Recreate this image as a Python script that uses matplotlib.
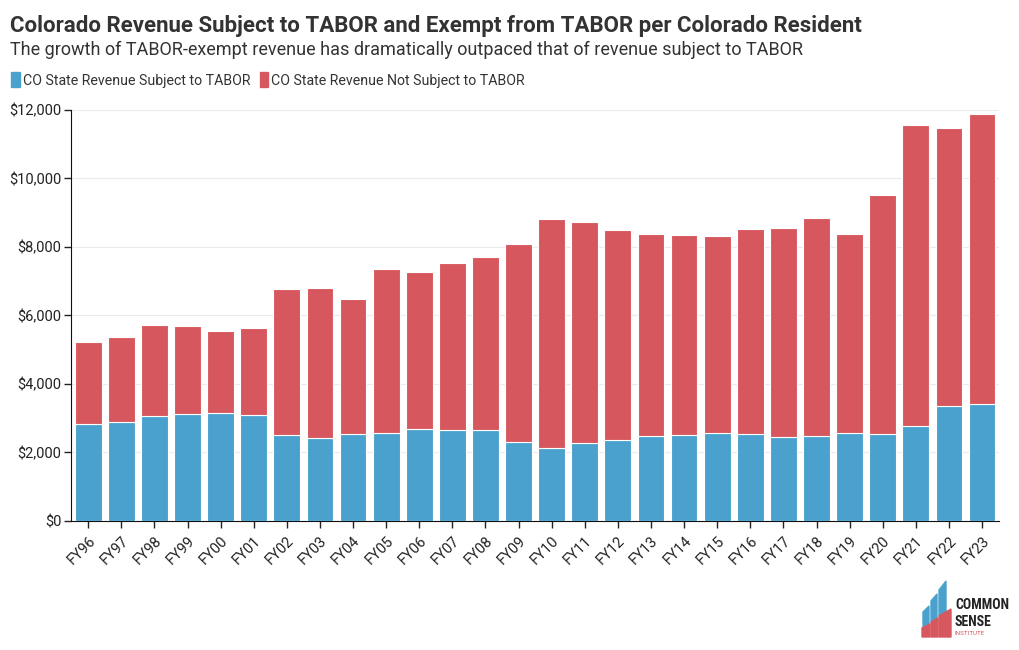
import matplotlib.pyplot as plt
from matplotlib.patches import Rectangle, Polygon
from matplotlib.ticker import FuncFormatter, MultipleLocator

plt.rcParams['font.family'] = ['Roboto', 'DejaVu Sans']

years = ['FY96', 'FY97', 'FY98', 'FY99', 'FY00', 'FY01', 'FY02', 'FY03', 'FY04', 'FY05',
         'FY06', 'FY07', 'FY08', 'FY09', 'FY10', 'FY11', 'FY12', 'FY13', 'FY14', 'FY15',
         'FY16', 'FY17', 'FY18', 'FY19', 'FY20', 'FY21', 'FY22', 'FY23']
# revenue subject to TABOR, per resident ($)
subject = [2835, 2900, 3066, 3115, 3163, 3085, 2501, 2413, 2550, 2570,
           2676, 2666, 2666, 2297, 2141, 2268, 2365, 2472, 2501, 2569,
           2550, 2453, 2482, 2579, 2550, 2764, 3367, 3416]
# total revenue per resident ($)
total = [5235, 5372, 5732, 5693, 5547, 5645, 6774, 6793, 6491, 7358,
         7261, 7542, 7708, 8097, 8808, 8730, 8506, 8370, 8350, 8331,
         8516, 8545, 8856, 8370, 9528, 11562, 11465, 11874]
not_subject = [t - s for t, s in zip(total, subject)]

BLUE = '#4ba1cd'
RED = '#d6585e'

fig = plt.figure(figsize=(10.2, 6.5), dpi=100)
ax = fig.add_axes([0.0696, 0.1985, 0.9094, 0.6323])

x = range(len(years))
ax.bar(x, subject, width=0.81, color=BLUE, edgecolor='white', linewidth=0.8, zorder=3)
ax.bar(x, not_subject, bottom=subject, width=0.81, color=RED, edgecolor='white',
       linewidth=0.8, zorder=3)

ax.set_xlim(-0.52, 27.5)
ax.set_ylim(0, 12000)
ax.yaxis.set_major_locator(MultipleLocator(2000))
ax.yaxis.set_major_formatter(FuncFormatter(lambda v, p: f'${v:,.0f}'))
ax.grid(axis='y', color='#ebebeb', linewidth=0.8, zorder=0)
ax.set_xticks(list(x))
ax.set_xticklabels(years, rotation=45, ha='right', rotation_mode='anchor')
ax.tick_params(axis='both', labelsize=10.5, colors='#222222', length=5, width=1)
ax.tick_params(axis='x', pad=4)
ax.tick_params(axis='y', pad=2)
for side in ['top', 'right']:
    ax.spines[side].set_visible(False)
ax.spines['left'].set_color('#111111')
ax.spines['bottom'].set_color('#111111')

fig.text(0.0098, 1 - 32 / 650, 'Colorado Revenue Subject to TABOR and Exempt from TABOR per Colorado Resident',
         fontsize=16, fontweight='bold', color='#333333', va='baseline')
fig.text(0.0098, 1 - 55 / 650, 'The growth of TABOR-exempt revenue has dramatically outpaced that of revenue subject to TABOR',
         fontsize=13, color='#333333', va='baseline')

# legend
handles = [Rectangle((0, 0), 1, 1, color=BLUE), Rectangle((0, 0), 1, 1, color=RED)]
fig.legend(handles, ['CO State Revenue Subject to TABOR', 'CO State Revenue Not Subject to TABOR'],
           loc='center left', bbox_to_anchor=(0.011, 1 - 80 / 650), ncol=2, frameon=False,
           fontsize=10.2, handlelength=0.6, handleheight=1.2, handletextpad=0.2,
           columnspacing=0.7, labelcolor='#333333', borderaxespad=0, borderpad=0)

# logo (approximation)
def px(xp, yp):
    return (xp / 1020, 1 - yp / 650)

for pts, c in [
    ([(923, 612), (929, 606), (929, 625), (923, 628)], BLUE),
    ([(931, 601), (937, 594), (937, 618), (931, 622)], BLUE),
    ([(939, 590), (946, 581), (946, 612), (939, 616)], BLUE),
    ([(922, 628), (930, 624), (930, 637), (922, 637)], RED),
    ([(931, 622), (938, 618), (938, 637), (931, 637)], RED),
    ([(939, 616), (951, 609), (951, 637), (939, 637)], RED),
]:
    fig.patches.append(Polygon([px(a, b) for a, b in pts], closed=True, color=c,
                               transform=fig.transFigure, figure=fig))
fig.text(955 / 1020, 1 - 609 / 650, 'COMMON', fontsize=10, fontweight='bold', color='#222222',
         va='baseline', family=['Roboto Condensed', 'Roboto', 'DejaVu Sans'])
fig.text(955 / 1020, 1 - 626 / 650, 'SENSE', fontsize=10, fontweight='bold', color='#222222',
         va='baseline', family=['Roboto Condensed', 'Roboto', 'DejaVu Sans'])
fig.text(955 / 1020, 1 - 635 / 650, 'INSTITUTE', fontsize=4.5, color=RED, va='baseline')

fig.savefig('out.png', dpi=100)
